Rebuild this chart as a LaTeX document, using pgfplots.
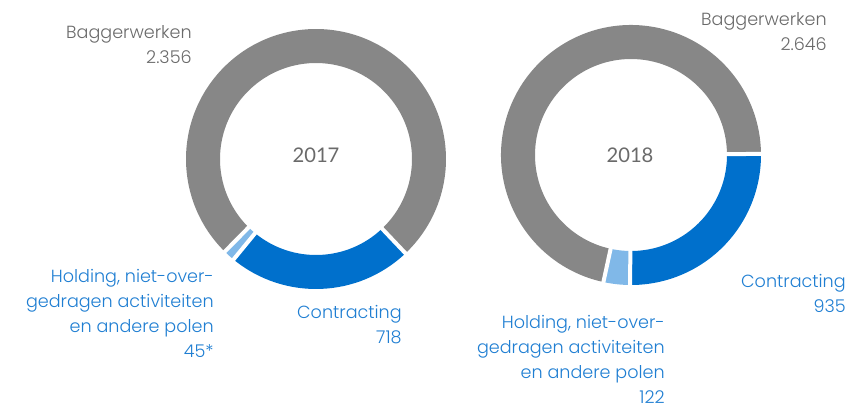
\documentclass[border=0pt]{standalone}
\usepackage{pgfplots}
\usepackage{pgfplotstable}
\pgfplotsset{compat=1.18}
\usepackage{fontspec}
\setmainfont{Poppins Light}
\newfontfamily\yearfont{Lato}

\definecolor{cgray}{HTML}{878787}
\definecolor{cblue}{HTML}{0070CC}
\definecolor{clight}{HTML}{80B8E8}
\definecolor{tgray}{HTML}{6A6A6A}
\definecolor{tblue}{HTML}{1F7ED2}

% segments in clockwise order from the start angle
\pgfplotstableread{
name value col
Contracting 718 cblue
Holding 45 clight
Baggerwerken 2356 cgray
}\dataA
\pgfplotstableread{
name value col
Contracting 935 cblue
Holding 122 clight
Baggerwerken 2646 cgray
}\dataB

\def\Ro{130}\def\Ri{96}

% #1 table, #2 cx, #3 cy, #4 start angle
\newcommand\donut[4]{%
  \pgfmathsetmacro\tot{0}%
  \pgfplotsforeachungrouped \i in {0,1,2}{%
    \pgfplotstablegetelem{\i}{value}\of#1%
    \pgfmathsetmacro\tot{\tot+\pgfplotsretval}}%
  \pgfmathsetmacro\ang{#4}%
  \pgfplotsforeachungrouped \i in {0,1,2}{%
    \pgfplotstablegetelem{\i}{value}\of#1%
    \pgfmathsetmacro\nxt{\ang-\pgfplotsretval/\tot*360}%
    \pgfplotstablegetelem{\i}{col}\of#1%
    \edef\temp{\noexpand\fill[\pgfplotsretval]
      (axis cs:{#2+\Ro*cos(\ang)},{#3+\Ro*sin(\ang)})
      arc[start angle=\ang, end angle=\nxt, radius=\Ro*0.02cm]
      -- (axis cs:{#2+\Ri*cos(\nxt)},{#3+\Ri*sin(\nxt)})
      arc[start angle=\nxt, end angle=\ang, radius=\Ri*0.02cm] -- cycle;}%
    \temp
    \let\ang\nxt}%
  % white gaps between the segments
  \pgfmathsetmacro\ang{#4}%
  \pgfplotsforeachungrouped \i in {0,1,2}{%
    \pgfplotstablegetelem{\i}{value}\of#1%
    \pgfmathsetmacro\nxt{\ang-\pgfplotsretval/\tot*360}%
    \edef\temp{\noexpand\draw[white, line width=0.08cm]
      (axis cs:{#2+(\Ri-3)*cos(\ang)},{#3+(\Ri-3)*sin(\ang)})
      -- (axis cs:{#2+(\Ro+3)*cos(\ang)},{#3+(\Ro+3)*sin(\ang)});}%
    \temp
    \let\ang\nxt}%
}

% label line: right edge x, baseline y (pixels from top), colour, text
\newcommand\lab[4]{\node[anchor=base east, inner sep=0pt, text=#3] at (axis cs:#1,407-#2) {#4};}

\begin{document}
\begin{tikzpicture}
\begin{axis}[
  x=0.02cm, y=0.02cm,
  xmin=0, xmax=863, ymin=0, ymax=407,
  hide axis, clip=false,
  every node/.append style={font=\fontsize{11.5}{14}\selectfont},
]
\donut{\dataA}{316}{248}{-46.5}
\donut{\dataB}{631}{252}{0.5}

\node[text=tgray, font=\yearfont\fontsize{11.5}{14}\selectfont] at (axis cs:316,251.5) {2017};
\node[text=tgray, font=\yearfont\fontsize{11.5}{14}\selectfont] at (axis cs:630,252) {2018};

\lab{192}{38}{tgray}{Baggerwerken}
\lab{192}{63}{tgray}{2.356}
\lab{214}{282}{tblue}{Holding, niet-over-}
\lab{214}{307}{tblue}{gedragen activiteiten}
\lab{214}{332}{tblue}{en andere polen}
\lab{214}{357}{tblue}{45*}
\lab{402}{318}{tblue}{Contracting}
\lab{402}{343}{tblue}{718}

\lab{827}{25}{tgray}{Baggerwerken}
\lab{827}{50}{tgray}{2.646}
\lab{846}{287}{tblue}{Contracting}
\lab{846}{312}{tblue}{935}
\lab{665}{328}{tblue}{Holding, niet-over-}
\lab{665}{353}{tblue}{gedragen activiteiten}
\lab{665}{378}{tblue}{en andere polen}
\lab{665}{403}{tblue}{122}
\end{axis}
\pgfresetboundingbox
\path (current axis.south west) rectangle (current axis.north east);
\end{tikzpicture}
\end{document}
